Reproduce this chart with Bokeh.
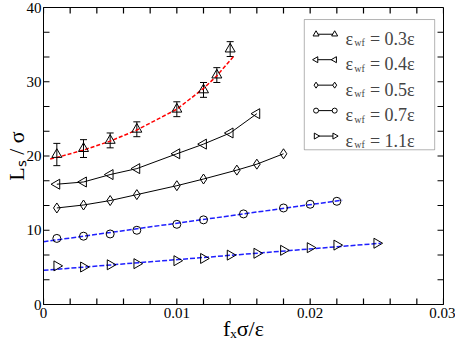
import math
from bokeh.plotting import figure
from bokeh.models import (Range1d, FixedTicker, Whisker, TeeHead,
                          ColumnDataSource, Label, BoxAnnotation)
from bokeh.embed import file_html
from bokeh.resources import INLINE

# ---------------- data ----------------
x_03 = [0.001, 0.003, 0.005, 0.007, 0.010, 0.012, 0.013, 0.014]
y_03 = [20.2, 21.0, 22.1, 23.6, 26.3, 28.9, 30.9, 34.4]
err_03 = [1.5, 1.2, 1.0, 1.0, 1.0, 1.0, 1.0, 1.0]
fit_x_03 = [0.0005, 0.001, 0.003, 0.005, 0.007, 0.010, 0.012, 0.013, 0.0143]
fit_y_03 = [19.6, 19.8, 20.8, 22.0, 23.5, 26.3, 29.1, 30.8, 33.5]

x_04 = [0.001, 0.003, 0.005, 0.007, 0.010, 0.012, 0.014, 0.016]
y_04 = [16.2, 16.5, 17.5, 18.3, 20.3, 21.6, 23.1, 25.7]

x_05 = [0.001, 0.003, 0.005, 0.007, 0.010, 0.012, 0.0145, 0.016, 0.018]
y_05 = [13.0, 13.4, 14.0, 14.8, 16.0, 16.9, 18.1, 18.9, 20.3]

x_07 = [0.001, 0.003, 0.005, 0.007, 0.010, 0.012, 0.015, 0.018, 0.020, 0.022]
y_07 = [8.9, 9.2, 9.5, 10.0, 10.8, 11.4, 12.2, 13.0, 13.5, 13.9]
fit_x_07 = [0.0, 0.0224]
fit_y_07 = [8.45, 14.05]

x_11 = [0.001, 0.003, 0.005, 0.007, 0.010, 0.012, 0.014, 0.016, 0.018, 0.020, 0.022, 0.025]
y_11 = [5.2, 5.05, 5.35, 5.5, 5.9, 6.2, 6.65, 6.9, 7.3, 7.65, 8.0, 8.25]
fit_x_11 = [0.0, 0.0253]
fit_y_11 = [4.6, 8.25]

eps_labels = ["0.3", "0.4", "0.5", "0.7", "1.1"]

x_ticks = [0.0, 0.01, 0.02, 0.03]
x_tick_labels = ["0", "0.01", "0.02", "0.03"]
y_ticks = [0, 10, 20, 30, 40]
y_tick_labels = ["0", "10", "20", "30", "40"]
x_title = "fₓσ/ε"
y_title = "Lₛ / σ"

# ---------------- layout ----------------
W, H = 455, 346
BL, BR, BT, BB = 42, 12, 7, 42
FW, FH = W - BL - BR, H - BT - BB
SERIF = "Liberation Serif"
XMAX, YMAX = 0.03, 40.0

sx = FW / 408.0
sy = FH / 303.3


def fx(rx):          # reference x -> frame-pixel x
    return (rx - 42.0) * sx


def fy(ry):          # reference y -> frame-pixel y (upwards)
    return FH - (ry - 6.7) * sy


p = figure(width=W, height=H, x_range=Range1d(0, XMAX), y_range=Range1d(0, YMAX),
           output_backend="svg", toolbar_location=None,
           min_border_left=BL, min_border_right=BR, min_border_top=BT, min_border_bottom=BB)
p.extra_x_ranges = {"px": Range1d(0, FW)}
p.extra_y_ranges = {"py": Range1d(0, FH)}
p.grid.visible = False
p.outline_line_color = "black"
p.outline_line_alpha = 1.0
p.background_fill_color = "white"
p.border_fill_color = "white"

x_minor = [i * 0.002 for i in range(16) if i % 5]
y_minor = [i * 10.0 / 3.0 for i in range(13) if i % 3]


def style_axis(ax, standoff):
    ax.axis_line_color = "black"
    ax.major_tick_in = 0
    ax.major_tick_out = 0
    ax.minor_tick_in = 0
    ax.minor_tick_out = 0
    ax.major_label_standoff = standoff
    ax.major_label_text_font = SERIF
    ax.major_label_text_font_size = "15px"
    ax.major_label_text_color = "black"
    ax.axis_label_text_font = SERIF
    ax.axis_label_text_font_size = "22px"
    ax.axis_label_text_font_style = "normal"
    ax.axis_label_text_color = "black"
    ax.axis_label_standoff = -5


xa = p.xaxis[0]
xa.ticker = FixedTicker(ticks=x_ticks, minor_ticks=x_minor)
xa.major_label_overrides = {t: l for t, l in zip(x_ticks, x_tick_labels)}
style_axis(xa, 3)
xa.axis_label = x_title
ya = p.yaxis[0]
ya.ticker = FixedTicker(ticks=y_ticks, minor_ticks=y_minor)
ya.major_label_overrides = {t: l for t, l in zip(y_ticks, y_tick_labels)}
style_axis(ya, 2)
ya.axis_label = y_title

# inward ticks on all four sides (drawn inside the frame)
TICK = 6.0
tx = x_ticks + x_minor
ty = y_ticks + y_minor
dy = TICK * YMAX / FH
dx = TICK * XMAX / FW
tick_style = dict(line_color="#000000", line_width=1.2, line_alpha=1.0)
p.segment(x0=tx, y0=[0.0] * len(tx), x1=tx, y1=[dy] * len(tx), **tick_style)
p.segment(x0=tx, y0=[YMAX] * len(tx), x1=tx, y1=[YMAX - dy] * len(tx), **tick_style)
p.segment(x0=[0.0] * len(ty), y0=ty, x1=[dx] * len(ty), y1=ty, **tick_style)
p.segment(x0=[XMAX] * len(ty), y0=ty, x1=[XMAX - dx] * len(ty), y1=ty, **tick_style)

RED = "#ff0000"
BLUE = "#1f1fff"

# ---- series 0.3 with error bars and red fit
p.line(fit_x_03, fit_y_03, line_color=RED, line_dash="4 2", line_width=1.5)
src03 = ColumnDataSource(dict(x=x_03, y=y_03,
                              upper=[a + b for a, b in zip(y_03, err_03)],
                              lower=[a - b for a, b in zip(y_03, err_03)]))
p.add_layout(Whisker(source=src03, base="x", upper="upper", lower="lower",
                     line_color="black", line_width=1,
                     upper_head=TeeHead(size=7, line_color="black", line_width=1),
                     lower_head=TeeHead(size=7, line_color="black", line_width=1)))
p.scatter("x", "y", source=src03, marker="triangle", size=10, line_color="black",
          fill_color=None, line_width=1)

# ---- series 0.4
p.line(x_04, y_04, line_color="black", line_width=1)
p.scatter(x_04, y_04, marker="triangle", angle=math.pi / 2, size=10, line_color="black",
          fill_color=None, line_width=1)

# ---- series 0.5
p.line(x_05, y_05, line_color="black", line_width=1)
p.scatter(x_05, y_05, marker="diamond", size=10, line_color="black",
          fill_color=None, line_width=1)

# ---- series 0.7
p.line(fit_x_07, fit_y_07, line_color=BLUE, line_dash="5 2", line_width=1.5)
p.scatter(x_07, y_07, marker="circle", size=8, line_color="black",
          fill_color=None, line_width=1)

# ---- series 1.1
p.line(fit_x_11, fit_y_11, line_color=BLUE, line_dash="5 2", line_width=1.5)
p.scatter(x_11, y_11, marker="triangle", angle=-math.pi / 2, size=10, line_color="black",
          fill_color=None, line_width=1)

# ---------------- legend (drawn by hand in frame-pixel ranges) ----------------
p.add_layout(BoxAnnotation(left=fx(308), right=fx(441), top=fy(19), bottom=fy(152),
                           x_range_name="px", y_range_name="py",
                           fill_alpha=0, line_color="black", line_width=1))
row_ref = [34, 60, 86, 112, 138]
leg_markers = [("triangle", 0.0), ("triangle", math.pi / 2), ("diamond", 0.0),
               ("circle", 0.0), ("triangle", -math.pi / 2)]
for ry, (mk, ang), lab in zip(row_ref, leg_markers, eps_labels):
    yy = fy(ry)
    xs = [fx(320), fx(339)]
    p.line(xs, [yy, yy], x_range_name="px", y_range_name="py", line_color="black", line_width=1)
    p.scatter(xs, [yy, yy], x_range_name="px", y_range_name="py", marker=mk, angle=ang,
              size=6 if mk != "circle" else 5, line_color="black", fill_color="white", line_width=1)
    base = yy - 4.5
    p.add_layout(Label(x=fx(350), y=base, x_range_name="px", y_range_name="py", text="ε",
                       text_font=SERIF, text_font_size="18px", text_baseline="alphabetic"))
    p.add_layout(Label(x=fx(359), y=base - 4, x_range_name="px", y_range_name="py", text="wf",
                       text_font=SERIF, text_font_size="10px", text_baseline="alphabetic"))
    p.add_layout(Label(x=fx(375), y=base, x_range_name="px", y_range_name="py",
                       text="= " + lab + "ε",
                       text_font=SERIF, text_font_size="18px", text_baseline="alphabetic"))

open("out.html", "w").write(file_html(p, INLINE))
